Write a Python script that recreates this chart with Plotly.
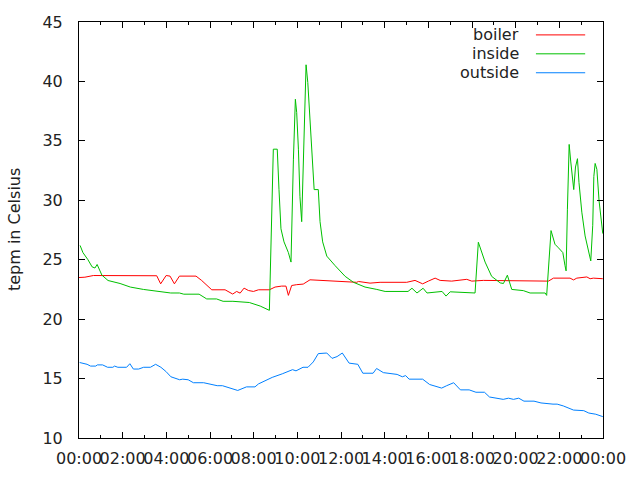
import datetime as dt
import plotly.graph_objects as go

# hours since midnight and readings (°C)
boiler_hours = [0.0, 0.27, 0.66, 3.56, 3.74, 3.99, 4.17, 4.37, 4.6, 5.36, 5.62,
                6.08, 6.69, 7.04, 7.22, 7.38, 7.56, 7.76, 7.99, 8.22, 8.72,
                8.98, 9.28, 9.48, 9.59, 9.74, 9.97, 10.27, 10.58, 11.19, 11.73,
                12.72, 12.8, 13.33, 13.79, 14.02, 15.01, 15.39, 15.74, 16.0,
                16.31, 16.54, 17.07, 17.76, 17.99, 18.52, 19.29, 21.5, 21.73,
                22.49, 22.65, 22.8, 23.26, 23.41, 23.56, 23.99]
boiler_temp = [23.5, 23.53, 23.67, 23.65, 22.97, 23.67, 23.62, 22.97, 23.62, 23.62, 23.25,
               22.47, 22.47, 22.11, 22.33, 22.19, 22.61, 22.41, 22.33, 22.47, 22.47,
               22.7, 22.78, 22.78, 22.0, 22.83, 22.9, 22.95, 23.31, 23.25, 23.17,
               23.1, 23.17, 23.03, 23.1, 23.1, 23.1, 23.26, 22.97, 23.2,
               23.45, 23.26, 23.2, 23.35, 23.2, 23.26, 23.26, 23.2, 23.45,
               23.45, 23.3, 23.45, 23.55, 23.4, 23.45, 23.4]

inside_hours = [0.05, 0.18, 0.41, 0.6, 0.73, 0.83, 1.05, 1.33, 1.88, 2.35, 2.95,
                3.7, 4.2, 4.6, 4.8, 5.5, 5.85, 6.3, 6.6, 7.05, 7.8, 8.3, 8.72,
                8.9, 9.08, 9.16, 9.25, 9.39, 9.59, 9.71, 9.77, 9.82, 9.91, 9.97,
                10.05, 10.12, 10.2, 10.31, 10.4, 10.48, 10.55, 10.66, 10.77, 10.96,
                11.04, 11.16, 11.35, 11.73, 12.19, 12.57, 13.1, 13.64, 14.02, 15.07,
                15.25, 15.48, 15.76, 15.94, 16.63, 16.81, 17.0, 18.14, 18.29, 18.6,
                18.9, 19.29, 19.44, 19.62, 19.82, 20.35, 20.66, 21.35, 21.42, 21.62,
                21.68, 21.8, 21.96, 22.16, 22.26, 22.31, 22.37, 22.45, 22.52, 22.62,
                22.66, 22.74, 22.83, 22.9, 23.03, 23.18, 23.3, 23.44, 23.53, 23.58,
                23.64, 23.72, 23.82, 23.91, 23.99]
inside_temp = [26.2, 25.6, 25.0, 24.4, 24.3, 24.6, 23.7, 23.25, 23.0, 22.7, 22.5,
               22.35, 22.2, 22.2, 22.1, 22.1, 21.7, 21.7, 21.5, 21.5, 21.4, 21.1, 20.74,
               34.3, 34.3, 30.9, 27.6, 26.5, 25.6, 24.8, 29.8, 33.4, 38.5, 37.4,
               34.3, 30.3, 28.2, 35.7, 41.4, 39.9, 37.6, 34.3, 30.9, 30.9,
               28.2, 26.5, 25.3, 24.5, 23.6, 23.1, 22.7, 22.5, 22.33, 22.33,
               22.6, 22.2, 22.6, 22.2, 22.33, 21.94, 22.3, 22.2, 26.47, 24.8,
               23.6, 23.05, 23.0, 23.7, 22.5, 22.4, 22.2, 22.2, 22.0, 27.45,
               27.0, 26.3, 26.0, 25.6, 24.5, 24.06, 29.25, 34.7, 33.3, 31.5,
               30.9, 32.8, 33.5, 31.5, 29.0, 27.0, 25.9, 24.9, 27.9, 32.0,
               33.1, 32.6, 29.95, 28.4, 27.2]

outside_hours = [0.03, 0.37, 0.53, 0.77, 0.84, 1.08, 1.31, 1.55, 1.63, 1.78, 2.18,
                 2.33, 2.49, 2.73, 2.96, 3.27, 3.51, 3.75, 3.98, 4.21, 4.61, 4.75,
                 5.0, 5.24, 5.71, 6.02, 6.33, 6.57, 6.88, 7.27, 7.67, 7.82, 8.06,
                 8.22, 8.53, 8.85, 9.31, 9.78, 9.94, 10.26, 10.49, 10.73, 10.96,
                 11.2, 11.35, 11.59, 11.82, 12.06, 12.37, 12.77, 13.0, 13.47, 13.63,
                 13.94, 14.57, 14.81, 14.96, 15.12, 15.74, 16.06, 16.61, 16.84, 17.16,
                 17.47, 17.87, 18.18, 18.57, 18.8, 19.2, 19.43, 19.67, 19.9, 20.14,
                 20.38, 20.84, 21.16, 21.71, 21.9, 22.18, 22.65, 23.12, 23.35, 23.67,
                 23.87, 23.99]
outside_temp = [16.35, 16.2, 16.05, 16.05, 16.15, 16.15, 15.95, 15.95, 16.05, 15.95, 15.95,
                16.25, 15.8, 15.8, 15.95, 15.95, 16.2, 15.95, 15.6, 15.15, 14.9, 14.95,
                14.9, 14.65, 14.65, 14.55, 14.4, 14.4, 14.2, 14.0, 14.3, 14.3, 14.3,
                14.55, 14.8, 15.1, 15.4, 15.75, 15.65, 15.95, 15.95, 16.4, 17.1,
                17.15, 17.15, 16.7, 16.85, 17.15, 16.3, 16.2, 15.45, 15.45, 15.85,
                15.5, 15.35, 15.15, 15.25, 14.95, 14.95, 14.5, 14.2, 14.4, 14.65,
                14.05, 14.05, 13.85, 13.85, 13.45, 13.35, 13.25, 13.35, 13.25, 13.35,
                13.1, 13.1, 12.95, 12.85, 12.85, 12.7, 12.35, 12.3, 12.1, 12.0,
                11.85, 11.8]

series = [
    ("boiler", boiler_hours, boiler_temp, "#ff0000"),
    ("inside", inside_hours, inside_temp, "#00c000"),
    ("outside", outside_hours, outside_temp, "#0080ff"),
]

day = dt.datetime(2000, 1, 1)


def to_time(hours):
    return [day + dt.timedelta(hours=h) for h in hours]


FONT = "DejaVu Sans"
FSIZE = 16
fig = go.Figure()

for name, hours, temps, colour in series:
    fig.add_trace(go.Scatter(
        x=to_time(hours), y=temps, mode="lines", name=name,
        line=dict(color=colour, width=1), showlegend=False
    ))

# gnuplot style key: text on the left, line sample on the right
for i, (name, hours, temps, colour) in enumerate(series):
    ky = 0.969 - i * 0.0455
    fig.add_annotation(
        x=0.8435, y=ky, xref="paper", yref="paper", text=name,
        showarrow=False, xanchor="right", yanchor="middle",
        font=dict(family=FONT, size=FSIZE, color="#222222")
    )
    fig.add_shape(
        type="line", xref="paper", yref="paper",
        x0=0.872, x1=0.966, y0=ky, y1=ky,
        line=dict(color=colour, width=1)
    )

fig.add_annotation(
    x=-0.124, y=0.5, xref="paper", yref="paper", text="tepm in Celsius",
    textangle=-90, showarrow=False, xanchor="center", yanchor="middle",
    font=dict(family=FONT, size=FSIZE, color="#222222")
)

fig.update_layout(
    width=640, height=480,
    margin=dict(l=79, r=37, t=22, b=40),
    plot_bgcolor="white", paper_bgcolor="white",
    font=dict(family=FONT, size=FSIZE, color="#222222"),
    showlegend=False,
    xaxis=dict(
        range=[day, day + dt.timedelta(hours=24)],
        tick0=day, dtick=2 * 3600 * 1000, tickformat="%H:%M", tickangle=0,
        ticks="inside", ticklen=6, tickcolor="black",
        showline=True, linecolor="black", linewidth=1, mirror="allticks",
        showgrid=False, zeroline=False, ticklabelstandoff=6,
        minor=dict(dtick=3600 * 1000, ticks="inside", ticklen=3, tickcolor="black", showgrid=False)
    ),
    yaxis=dict(
        range=[10, 45], dtick=5,
        ticks="inside", ticklen=6, tickcolor="black",
        showline=True, linecolor="black", linewidth=1, mirror="allticks",
        showgrid=False, zeroline=False, ticklabelstandoff=12
    ),
)

# drop the default 8px body margin so the figure fills the window exactly
fig.write_html("out.html", config={"displayModeBar": False},
               post_script="document.body.style.margin = '0';")
